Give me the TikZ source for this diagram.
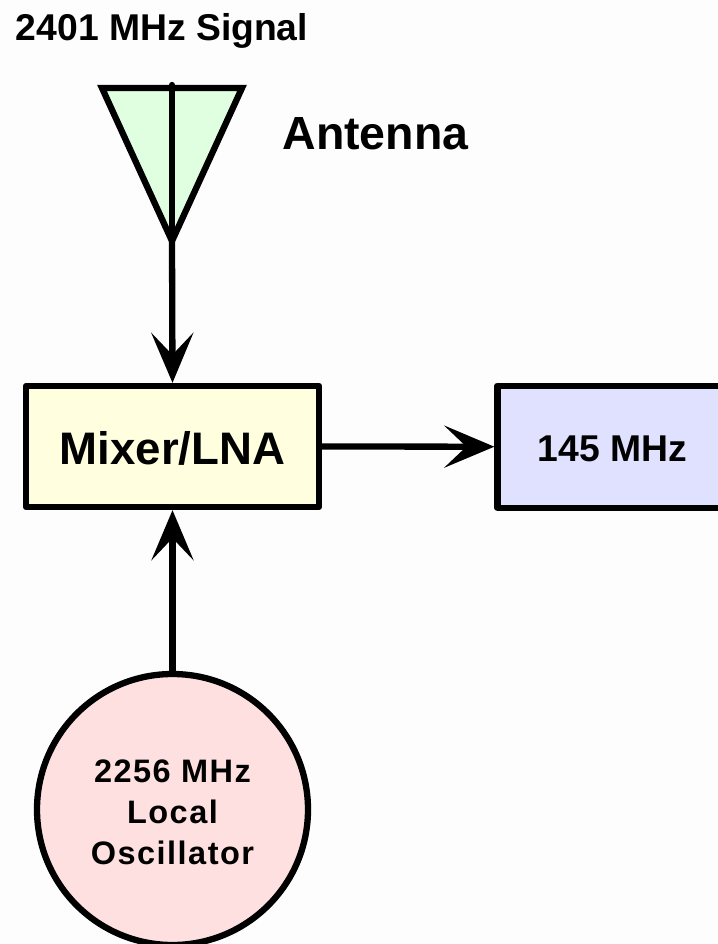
\documentclass[tikz,border=0pt]{standalone}
\usepackage{fontspec}
\setmainfont{Liberation Sans}
\usetikzlibrary{arrows.meta}
\definecolor{paper}{RGB}{253,253,253}
\definecolor{antgreen}{RGB}{224,255,224}
\definecolor{mixyellow}{RGB}{255,255,224}
\definecolor{ifblue}{RGB}{224,224,255}
\definecolor{oscred}{RGB}{255,224,224}
\tikzset{
blockbox/.style={draw=black,line width=6.3pt,line join=round,inner sep=0pt,font=\bfseries},
flow/.style={line width=6.3pt,-{Stealth[length=50pt,width=42pt,inset=22pt]}}
}
\begin{document}
\begin{tikzpicture}[x=1pt,y=-1pt]
\fill[paper] (0,0) rectangle (717,944);
\useasboundingbox (0,0) rectangle (717,944);
\node[font=\bfseries\fontsize{37.3}{40}\selectfont] (signal) at (162,31) {2401 MHz Signal};
\filldraw[draw=black,fill=antgreen,line width=6.3pt] (102,88)--(242,88)--(172,241)--cycle;
\coordinate (anttop) at (172,85);
\coordinate (antbot) at (172,241);
\draw[line width=6.3pt,line cap=round] (anttop)--(antbot);
\node[font=\bfseries\fontsize{46.5}{50}\selectfont] (antenna) at (375.5,134) {Antenna};
\node[blockbox,fill=mixyellow,minimum width=293pt,minimum height=121pt,text height=36pt,font=\bfseries\fontsize{45.6}{50}\selectfont] (mixer) at (172.5,446.5) {Mixer/LNA};
\node[blockbox,fill=ifblue,minimum width=230pt,minimum height=122pt,text height=30pt,font=\bfseries\fontsize{37.3}{40}\selectfont] (filter) at (612.5,446.7) {145 MHz};
\node[circle,blockbox,fill=oscred,minimum size=271pt,align=center,font=\bfseries\fontsize{32.5}{41}\selectfont\addfontfeature{LetterSpace=4.5}] (osc) at (172.5,809.5) {\rule{0pt}{28pt}2256 MHz\\Local\\Oscillator};
\draw[flow] (antbot)--(mixer.north);
\draw[flow] (mixer.east)--(filter.west);
\draw[flow] (osc.north)--(mixer.south);
\end{tikzpicture}
\end{document}
